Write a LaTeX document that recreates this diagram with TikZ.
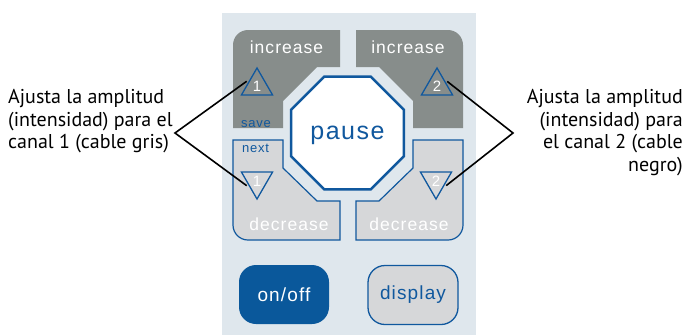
\documentclass[tikz,border=0pt]{standalone}
\usepackage{fontspec}
\setmainfont{PT Sans}
\newfontfamily\keyfont[LetterSpace=6]{Liberation Sans}
\newfontfamily\numfont{Liberation Sans}
\usetikzlibrary{shapes.geometric}
\definecolor{panelbg}{RGB}{223,231,237}
\definecolor{keygray}{RGB}{135,141,139}
\definecolor{keylight}{RGB}{214,215,217}
\definecolor{keyblue}{RGB}{16,88,158}
\definecolor{onblue}{RGB}{10,88,155}

\begin{document}
\begin{tikzpicture}[x=1pt, y=-1pt,
    every node/.style={inner sep=0pt},
    keylabel/.style={anchor=base, text=white, font=\keyfont\fontsize{17.5}{20}\selectfont},
    bluelabel/.style={anchor=base, text=keyblue, font=\keyfont\fontsize{13}{15}\selectfont},
    arrowup/.style={regular polygon, regular polygon sides=3, minimum size=36pt,
        draw=keyblue, line width=1.3pt, text=white, font=\numfont\fontsize{15}{17}\selectfont},
    arrowdown/.style={arrowup, shape border rotate=180},
    pausekey/.style={regular polygon, regular polygon sides=8, minimum size=122pt,
        fill=white, draw=keyblue, line width=2.5pt, text=keyblue, text depth=0pt,
        font=\keyfont\fontsize{25}{28}\selectfont},
    roundkey/.style={rounded corners=17pt, minimum width=90pt, minimum height=59pt,
        font=\keyfont\fontsize{19}{21}\selectfont},
    callout/.style={text=black, font=\fontsize{20}{22.5}\selectfont},
    pointer/.style={draw=black, line width=1.6pt, shorten <=4pt, shorten >=4pt}
]
\useasboundingbox (0,0) rectangle (688,335);

% panel
\fill[panelbg] (222,13) rectangle (476,335);

% upper keys
\fill[keygray] (233,128) -- (233,45) .. controls (233,36.7) and (239.7,30) .. (248,30)
    -- (340,30) -- (340,67) -- (317,67) -- (283,101) -- (283,128) -- cycle;
\fill[keygray] (463,128) -- (463,45) .. controls (463,36.7) and (456.3,30) .. (448,30)
    -- (356,30) -- (356,67) -- (379,67) -- (413,101) -- (413,128) -- cycle;

% lower keys
\filldraw[fill=keylight, draw=keyblue, line width=1.2pt] (233,140) -- (283,140) -- (283,168)
    -- (317,201) -- (340,201) -- (340,240) -- (248,240)
    .. controls (239.7,240) and (233,233.3) .. (233,225) -- cycle;
\filldraw[fill=keylight, draw=keyblue, line width=1.2pt] (463,140) -- (413,140) -- (413,168)
    -- (379,201) -- (356,201) -- (356,240) -- (448,240)
    .. controls (456.3,240) and (463,233.3) .. (463,225) -- cycle;

\node[pausekey] (pause) at (347.5,133) {pause};

\node[keylabel] (inc1) at (286.5,53) {increase};
\node[keylabel] (inc2) at (408,53) {increase};
\node[keylabel] (dec1) at (289,230) {decrease};
\node[keylabel] (dec2) at (409,230) {decrease};
\node[bluelabel] (save) at (256,127) {save};
\node[bluelabel] (next) at (255.5,152) {next};

\node[arrowup] (tri1up) at (257,86) {1};
\node[arrowup] (tri2up) at (437,86) {2};
\node[arrowdown] (tri1dn) at (257,181) {1};
\node[arrowdown] (tri2dn) at (436,181) {2};

\node[roundkey, fill=onblue, text=white] (onoff) at (284,294.5) {on/off};
\node[roundkey, fill=keylight, draw=keyblue, line width=1.3pt, text=keyblue] (display) at (413,295) {display};

% callouts
\node[callout, align=left, anchor=north west] (lnote) at (8,89.5)
    {Ajusta la amplitud\\(intensidad) para el\\canal 1 (cable gris)};
\node[callout, align=right, anchor=north east] (rnote) at (683,89.5)
    {Ajusta la amplitud\\(intensidad) para\\el canal 2 (cable\\negro)};
\coordinate (lapex) at (175,133);
\coordinate (rapex) at (513,133);
\draw[pointer] (tri1up.north west) -- (lapex) -- (tri1dn.south west);
\draw[pointer] (tri2up.north east) -- (rapex) -- (tri2dn.south east);
\end{tikzpicture}
\end{document}
